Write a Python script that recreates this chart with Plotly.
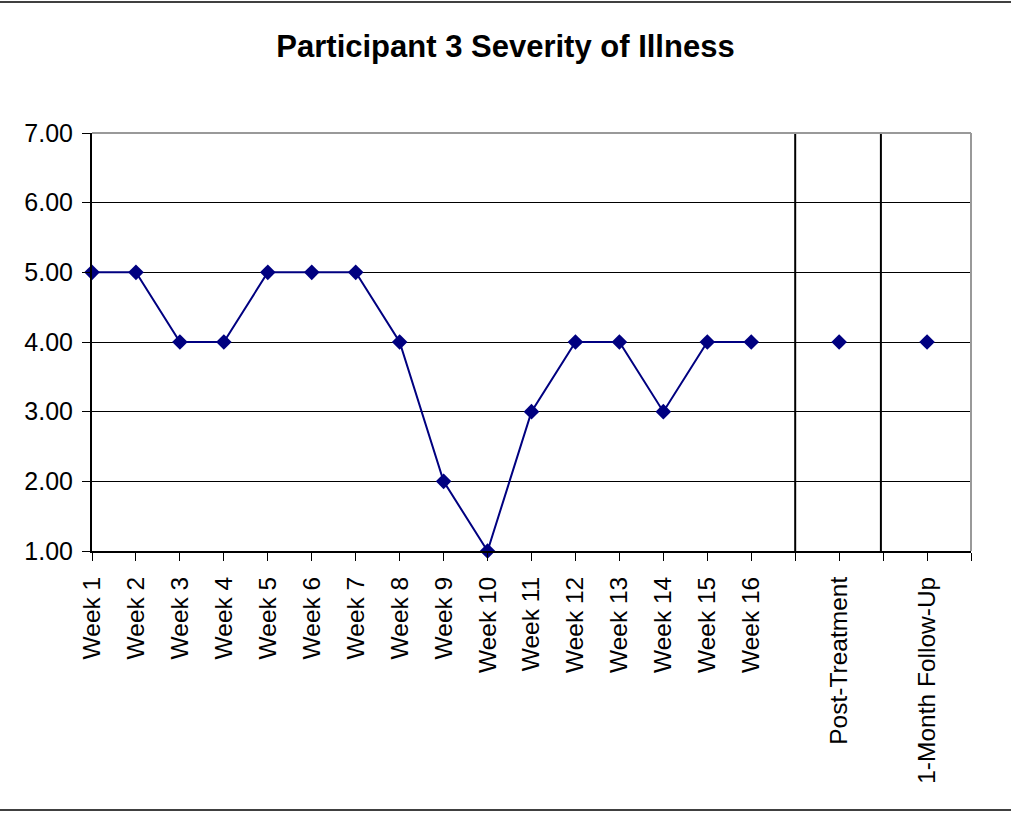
import plotly.graph_objects as go

# Category slots along the x axis (blank slots separate the phases)
categories = [f"Week {i}" for i in range(1, 17)] + ["", "Post-Treatment", "", "1-Month Follow-Up", ""]
severity = [5, 5, 4, 4, 5, 5, 5, 4, 2, 1, 3, 4, 4, 3, 4, 4, None, 4, None, 4, None]
phase_lines = [16, 17.95]
y_ticks = [1, 2, 3, 4, 5, 6, 7]

W, H = 1011, 814
L, R, T, B = 92, 40, 133, 263
pw, ph = W - L - R, H - T - B

font_family = "Liberation Sans, Arial, Helvetica, sans-serif"
x_idx = list(range(len(categories)))


def py(pixel_y):
    """Convert a page pixel row to paper y coordinates."""
    return (H - B - pixel_y) / ph


fig = go.Figure()
fig.add_trace(go.Scatter(
    x=x_idx, y=severity, mode="lines+markers",
    line=dict(color="#000080", width=2),
    marker=dict(symbol="diamond", size=12, color="#000080"),
    connectgaps=False, cliponaxis=False, showlegend=False, hoverinfo="skip",
))

shapes = []
# phase separator lines
for xv in phase_lines:
    shapes.append(dict(type="line", xref="x", yref="y", x0=xv, x1=xv, y0=1, y1=7,
                       line=dict(color="black", width=2), layer="below"))
# plot-area top and right border (gray)
shapes.append(dict(type="line", xref="paper", yref="paper", x0=0, x1=1, y0=1, y1=1,
                   line=dict(color="#999999", width=2)))
shapes.append(dict(type="line", xref="paper", yref="paper", x0=1, x1=1, y0=0, y1=1,
                   line=dict(color="#999999", width=2)))
# chart frame lines at top and bottom of the page
for row in (2, 810):
    shapes.append(dict(type="line", xref="paper", yref="paper",
                       x0=-L / pw, x1=(W - L) / pw, y0=py(row), y1=py(row),
                       line=dict(color="black", width=1.5)))

fig.update_layout(
    width=W, height=H,
    margin=dict(l=L, r=R, t=T, b=B, pad=0),
    paper_bgcolor="white", plot_bgcolor="white",
    font=dict(family=font_family, size=24, color="black"),
    title=dict(text="<b>Participant 3 Severity of Illness</b>",
               x=0.5, xref="container", xanchor="center",
               y=1 - 46 / H, yanchor="middle",
               font=dict(family=font_family, size=31, color="black")),
    shapes=shapes,
    showlegend=False,
)

fig.update_xaxes(
    range=[0, 20], tickmode="array", tickvals=x_idx, ticktext=categories,
    tickangle=-90, ticks="outside", ticklen=8, tickcolor="black", tickwidth=1,
    showline=True, linecolor="black", linewidth=2, showgrid=False, zeroline=False,
    ticklabelstandoff=6, tickfont=dict(size=24.5),
)
fig.update_yaxes(
    range=[1, 7], tickmode="array", tickvals=y_ticks,
    ticktext=[f"{v:.2f}" for v in y_ticks],
    ticks="outside", ticklen=8, tickcolor="black", tickwidth=1,
    showline=True, linecolor="black", linewidth=2,
    showgrid=True, gridcolor="black", gridwidth=1, zeroline=False,
    ticklabelstandoff=4, tickfont=dict(size=25),
)

fig.write_html("out.html")
